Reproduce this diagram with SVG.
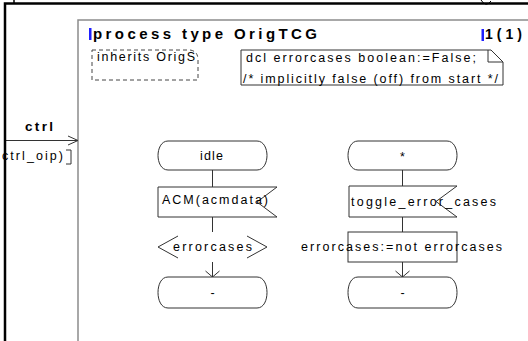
<svg xmlns="http://www.w3.org/2000/svg" width="528" height="341" viewBox="0 0 528 341">
<style>
.t{font-family:"Liberation Sans",Arial,sans-serif;font-size:12.5px;fill:#000}
.b{font-weight:bold;font-size:15px}
.s{fill:#fff;stroke:#333;stroke-width:1}
.ln{fill:none;stroke:#333;stroke-width:1}
.mid{text-anchor:middle}
</style>
<rect width="528" height="341" fill="#fff"/>
<g id="frame">
<path d="M14,0 V3" stroke="#000" stroke-width="1.5"/>
<path d="M481,0 Q486,8 491,1" fill="none" stroke="#000" stroke-width="1"/>
<path d="M78,341 V20 H528" fill="none" stroke="#8c8c8c" stroke-width="1.5"/>
<text class="t b" x="93" y="39" textLength="224" lengthAdjust="spacing">process type OrigTCG</text>
<rect x="89" y="28" width="2.5" height="12" fill="#2020ff"/>
<text class="t b" x="485" y="39" textLength="37" lengthAdjust="spacing" style="font-size:14px">1(1)</text>
<rect x="481.5" y="29" width="2.5" height="12" fill="#2020ff"/>
</g>
<g id="inherits">
<path d="M92,50 H190 Q198,51 198,60 V80 H92 Z" fill="none" stroke="#444" stroke-width="1" stroke-dasharray="4,3"/>
<text class="t" x="97" y="61" textLength="98" lengthAdjust="spacing">inherits OrigS</text>
</g>
<g id="dcl">
<path d="M241,50 H491 L503,62 V85 H241 Z" class="s"/>
<path d="M488,50 V62 H503" class="ln"/>
<text class="t" x="246" y="62" textLength="230" lengthAdjust="spacing">dcl errorcases boolean:=False;</text>
<text class="t" x="243" y="83" textLength="255" lengthAdjust="spacing">/* implicitly false (off) from start */</text>
</g>
<g id="ctrl">
<text class="t" x="2" y="160" textLength="61" lengthAdjust="spacing">ctrl_oip)</text>
<path d="M66,150 H71 V164 H66" class="ln"/>
<text class="t b" x="25" y="131" textLength="28" lengthAdjust="spacing" style="font-size:13.5px">ctrl</text>
</g>
<g id="connectors">
<path d="M5,140.5 H78 M68,136 L78,140.5 L68,145" class="ln"/>
<path d="M212.5,170 V187 M212.5,217 V232 M212.5,262 V277 M205.5,271 L212.5,277 L219.5,271" class="ln"/>
<path d="M402.5,170 V186 M402.5,217 V232 M402.5,262 V277 M395.5,271 L402.5,277 L409.5,271" class="ln"/>
</g>
<g id="outer">
<path d="M5,341 V3.5 H528" fill="none" stroke="#000" stroke-width="2.5"/>
</g>
<g id="idle">
<path class="s" d="M168,141 H257 C264,141 267,149 267,155.5 C267,162 264,170 257,170 H168 C161,170 158,162 158,155.5 C158,149 161,141 168,141 Z"/>
<text class="t" x="200" y="160" textLength="23" lengthAdjust="spacing">idle</text>
</g>
<g id="acm">
<path class="s" d="M158,187 H277 L257,202 L277,217 H158 Z"/>
<text class="t" x="162" y="204" textLength="106" lengthAdjust="spacing">ACM(acmdata)</text>
</g>
<g id="decision">
<path class="ln" d="M178,236 L158,247 L178,258 M247,236 L267,247 L247,258"/>
<text class="t" x="173" y="251" textLength="79" lengthAdjust="spacing">errorcases</text>
</g>
<g id="nextstate1">
<path class="s" d="M168,277 H257 C264,277 267,285 267,292.5 C267,300 264,308 257,308 H168 C161,308 158,300 158,292.5 C158,285 161,277 168,277 Z"/>
<text class="t mid" x="212.5" y="297">-</text>
</g>
<g id="star">
<path class="s" d="M358,141 H447 C454,141 457,149 457,155.5 C457,162 454,170 447,170 H358 C351,170 348,162 348,155.5 C348,149 351,141 358,141 Z"/>
<text class="t mid" x="402.5" y="161">*</text>
</g>
<g id="toggle">
<path class="s" d="M349,186 H457 L436,201.5 L457,217 H349 Z"/>
<text class="t" x="351" y="206" textLength="145" lengthAdjust="spacing">toggle_error_cases</text>
</g>
<g id="task">
<rect class="s" x="348" y="232" width="109" height="30"/>
<text class="t" x="301" y="251" textLength="201" lengthAdjust="spacing">errorcases:=not errorcases</text>
</g>
<g id="nextstate2">
<path class="s" d="M358,277 H447 C454,277 457,285 457,292.5 C457,300 454,308 447,308 H358 C351,308 348,300 348,292.5 C348,285 351,277 358,277 Z"/>
<text class="t mid" x="402.5" y="297">-</text>
</g>
</svg>
